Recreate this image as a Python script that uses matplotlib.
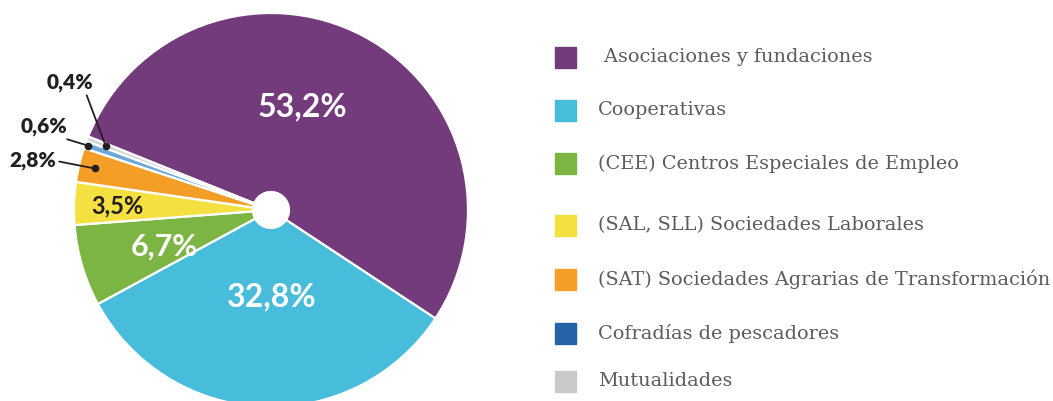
import numpy as np
import matplotlib.pyplot as plt

W, H = 1053, 401

# Data
categories = [
    " Asociaciones y fundaciones",
    "Cooperativas",
    "(CEE) Centros Especiales de Empleo",
    "(SAL, SLL) Sociedades Laborales",
    "(SAT) Sociedades Agrarias de Transformación",
    "Cofradías de pescadores",
    "Mutualidades",
]
shares = [53.2, 32.8, 6.7, 3.5, 2.8, 0.6, 0.4]
pct_labels = ["53,2%", "32,8%", "6,7%", "3,5%", "2,8%", "0,6%", "0,4%"]

pie_colors = ["#733b7b", "#47bddb", "#7db544", "#f5e042", "#f49d27", "#6aa8dc", "#d3d3d5"]
legend_colors = ["#733b7b", "#47bddb", "#7db544", "#f5e042", "#f49d27", "#2563a9", "#c9cacc"]

# layout (pixels, y from top)
cx, cy, R = 271, 210, 197
hole = 18
inner_pos = {0: (302, 107, "white", 23), 1: (272, 297, "white", 23),
             2: (164, 247, "white", 22), 3: (117, 206, "#231f20", 17)}
outer_pos = {4: (33, 161, 0.92, (1.0, 0.5)),
             5: (44, 127, 0.985, (0.8, 0.0)),
             6: (70, 83, 0.9, (0.85, -0.1))}
legend_rows = [57, 110, 163.5, 225, 279, 333.5, 381.5]

fig = plt.figure(figsize=(W / 100, H / 100), dpi=100)
ax = fig.add_axes([0, 0, 1, 1])

wedges, _ = ax.pie(
    shares, colors=pie_colors, startangle=158.1, counterclock=False,
    center=(cx, H - cy), radius=R,
    wedgeprops=dict(width=R - hole, edgecolor="white", linewidth=1.6),
)

ax.set_xlim(0, W)
ax.set_ylim(0, H)
ax.set_aspect("equal")
ax.axis("off")

for i, (x, y, col, fs) in inner_pos.items():
    ax.text(x, H - y, pct_labels[i], ha="center", va="center", color=col,
            fontsize=fs, fontfamily="Lato", fontweight="bold")

# small slices: label outside with a leader line to a dot
for i, (x, y, frac, rel) in outer_pos.items():
    w = wedges[i]
    mid = np.deg2rad((w.theta1 + w.theta2) / 2)
    px = cx + frac * R * np.cos(mid)
    py = (H - cy) + frac * R * np.sin(mid)
    ax.plot(px, py, "o", color="#231f20", markersize=4.5, zorder=5)
    ax.annotate(pct_labels[i], xy=(px, py), xytext=(x, H - y),
                ha="center", va="center", color="#231f20", fontsize=15,
                fontfamily="Lato", fontweight="heavy",
                arrowprops=dict(arrowstyle="-", color="#231f20", lw=1.3,
                                relpos=rel, shrinkA=0, shrinkB=0))

for name, col, y in zip(categories, legend_colors, legend_rows):
    ax.add_patch(plt.Rectangle((555, H - y - 10.5), 21, 21, color=col))
    ax.text(598, H - y, name, ha="left", va="center", color="#5b5b5b",
            fontsize=13.9, fontfamily="DejaVu Serif")

fig.savefig("out.png", dpi=100)
